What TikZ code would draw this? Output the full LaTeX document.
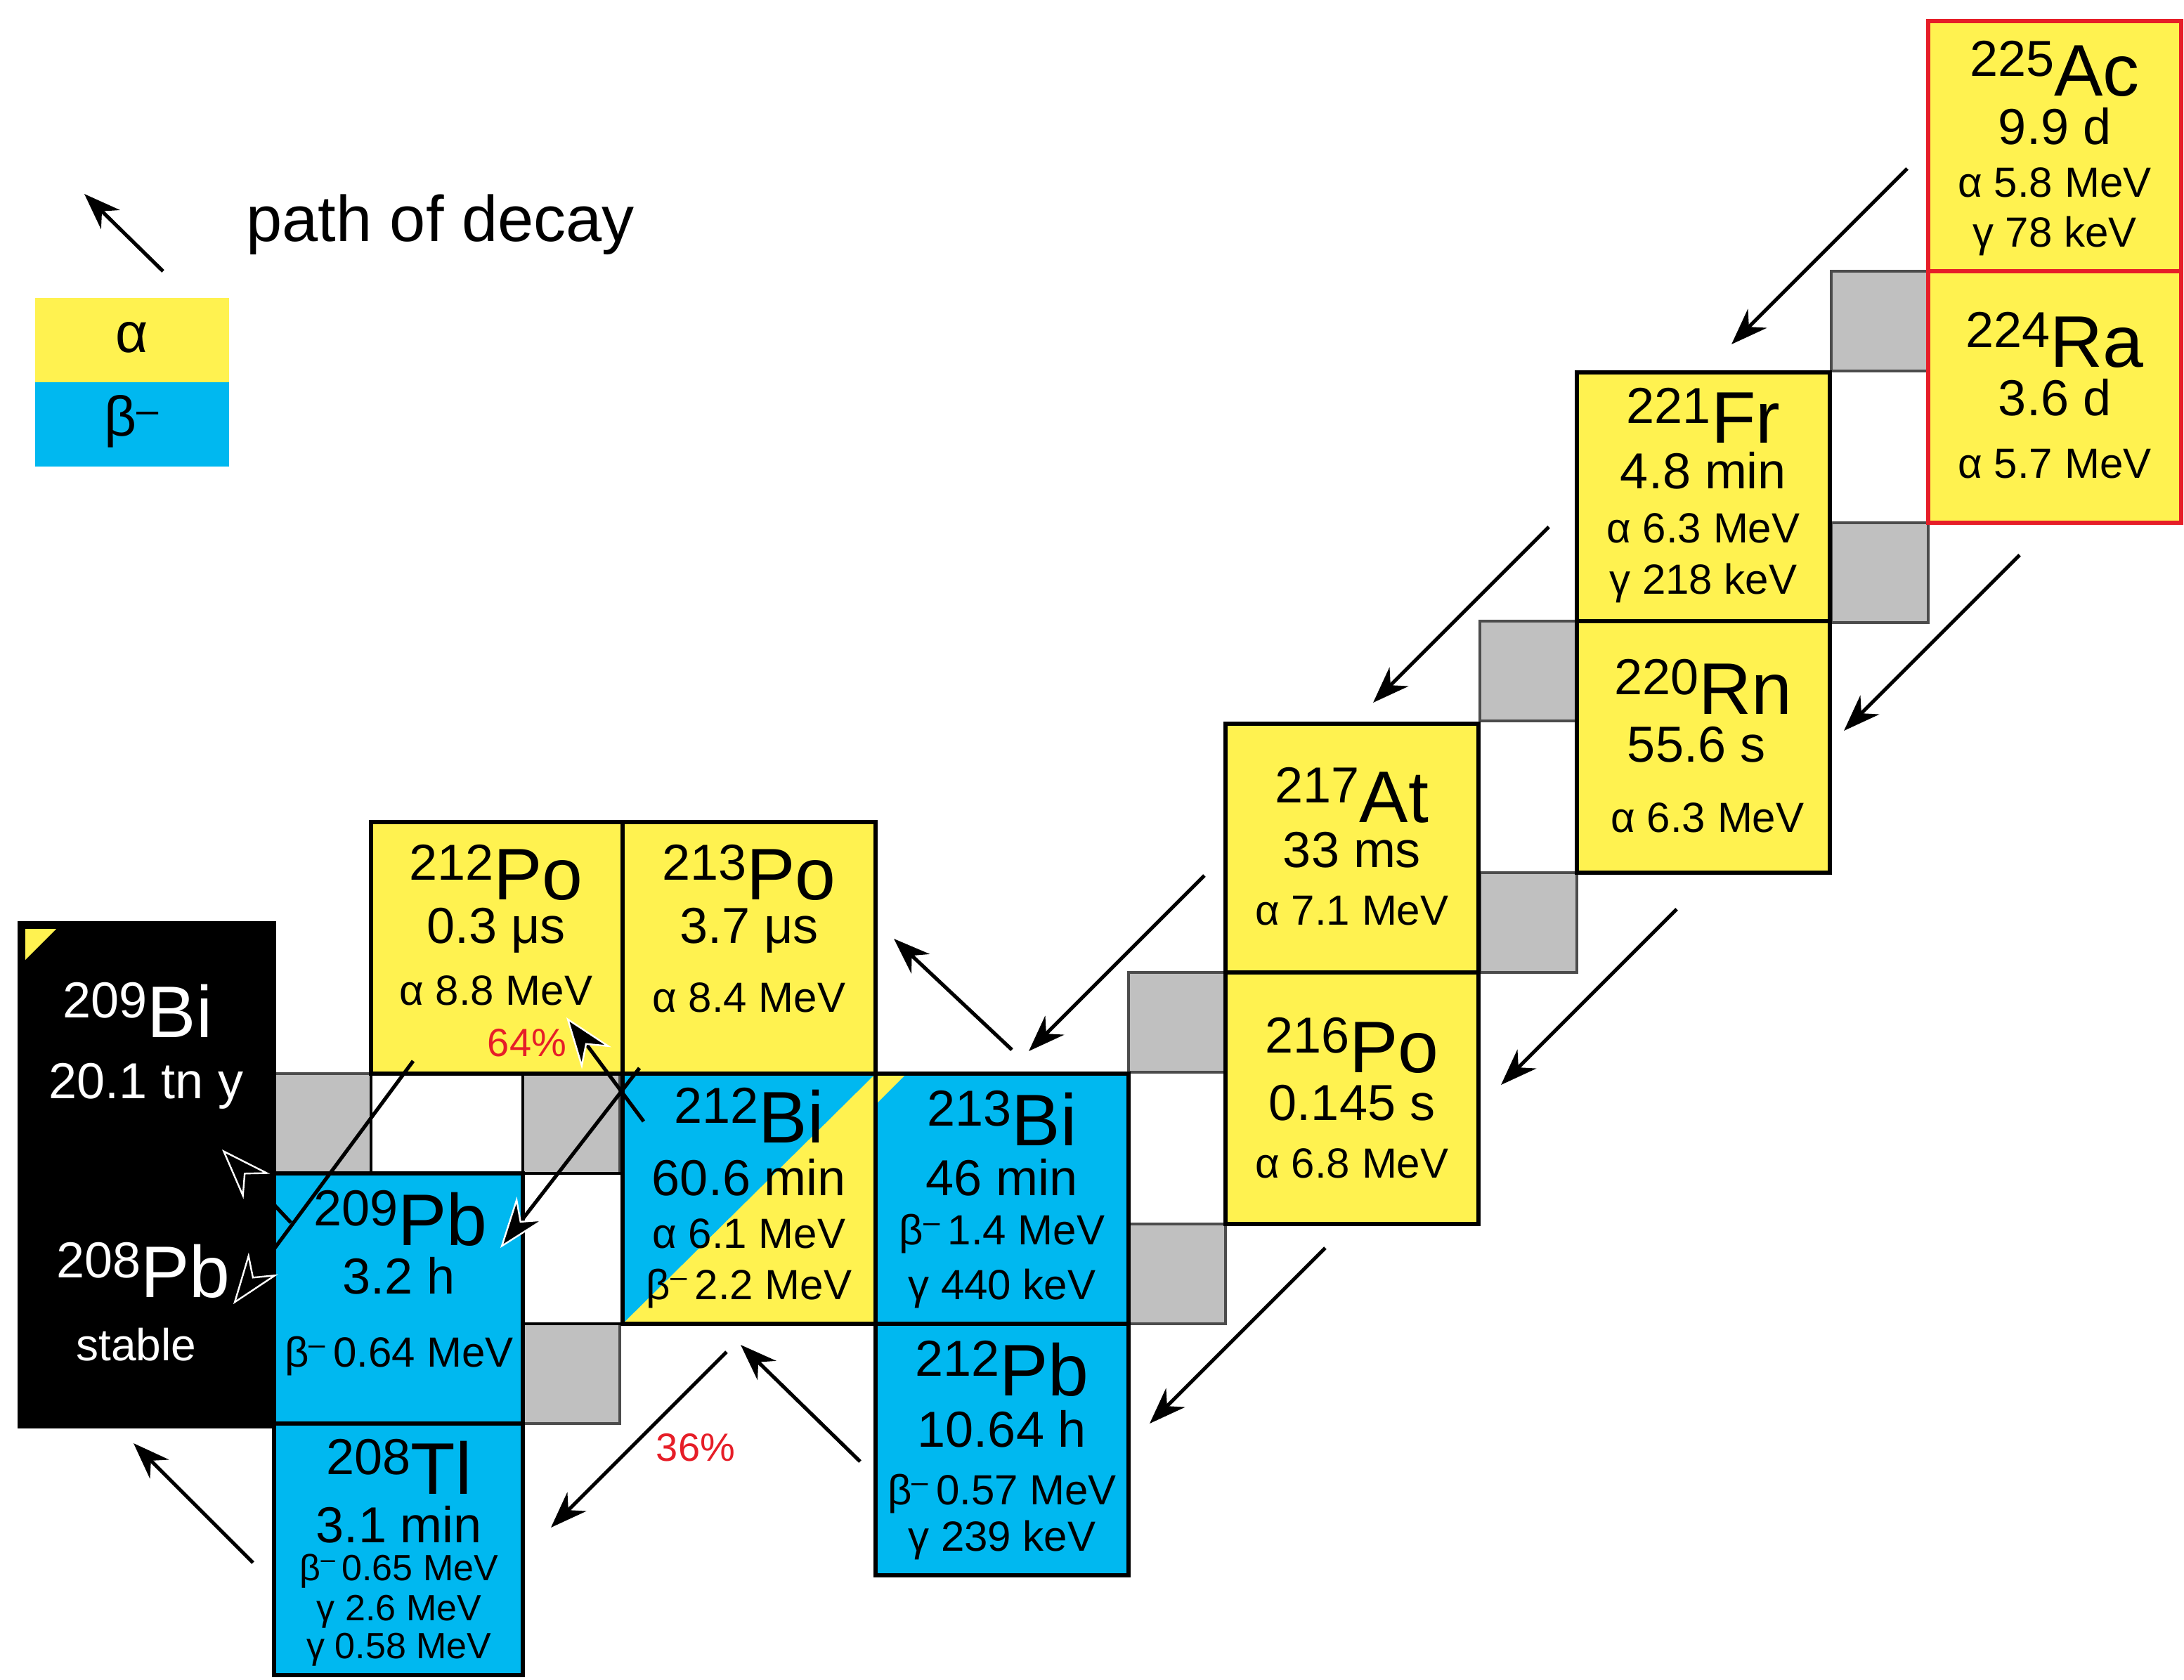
\documentclass[tikz,border=0pt]{standalone}
\usepackage{fontspec}
\setmainfont{Liberation Sans}
\usetikzlibrary{arrows.meta}
\definecolor{ye}{RGB}{255,242,80}
\definecolor{bl}{RGB}{0,184,240}
\definecolor{gr}{RGB}{192,192,192}
\definecolor{rd}{RGB}{230,30,40}
\newcommand\iso[2]{{\fontsize{36}{40}\selectfont\smash{\raisebox{14pt}{#1}}}{\fontsize{52}{56}\selectfont\smash{#2}}}
\newcommand\bm{β\textsuperscript{–}}
\tikzset{
 box/.style={draw=black,line width=3pt},
 gsq/.style={draw=black!70,line width=2pt,fill=gr},
 ttl/.style={inner sep=0pt,yshift=-18pt},
 hl/.style={inner sep=0pt,font=\fontsize{36}{40}\selectfont},
 en/.style={inner sep=0pt,font=\fontsize{30}{34}\selectfont},
 ensm/.style={inner sep=0pt,font=\fontsize{26}{28}\selectfont},
 pct/.style={inner sep=0pt,text=rd,font=\fontsize{28}{30}\selectfont},
 arr/.style={line width=2.6pt,-{Stealth[length=26pt,width=19pt]}},
 warr/.style={line width=2.6pt,-{Stealth[length=36pt,width=26pt,fill=black,color=white,line width=1.2pt]}},
}
\begin{document}
\begin{tikzpicture}[x=1pt,y=-1pt]
\useasboundingbox (0,0) rectangle (1554,1195);
% gray squares
\foreach \x/\y in {1303/193,1303/372,1053/442,1053/621,803/692,803/871,372/764,372/942,195/764}
  \draw[gsq] (\x,\y) rectangle ++(69,71);
% white cells borders
\draw[line width=2pt] (264,764) rectangle (372,835);
\draw[line width=2pt] (372,835) rectangle (443,942);
% boxes
\draw[box,fill=ye,draw=rd] (1372,15) rectangle (1552,193);
\draw[box,fill=ye,draw=rd] (1372,193) rectangle (1552,372);
\draw[box,fill=ye] (1122,265) rectangle (1302,442);
\draw[box,fill=ye] (1122,442) rectangle (1302,621);
\draw[box,fill=ye] (872,515) rectangle (1052,692);
\draw[box,fill=ye] (872,692) rectangle (1052,871);
\fill[bl] (623,764) rectangle (803,942);
\fill[ye] (623,764) -- (645,764) -- (623,786) -- cycle;
\draw[box] (623,764) rectangle (803,942);
\draw[box,fill=bl] (623,942) rectangle (803,1121);
\fill[ye] (443,764) rectangle (623,942);
\fill[bl] (443,764) -- (623,764) -- (443,942) -- cycle;
\draw[box] (443,764) rectangle (623,942);
\draw[box,fill=ye] (443,585) rectangle (623,764);
\draw[box,fill=ye] (264,585) rectangle (443,764);
\draw[box,fill=bl] (195,835) rectangle (372,1013);
\draw[box,fill=bl] (195,1013) rectangle (372,1192);
\draw[box,fill=black] (14,657) rectangle (195,835);
\fill[ye] (18,661) -- (40,661) -- (18,683) -- cycle;
\draw[box,fill=black] (14,835) rectangle (195,1015);
% texts
\node[ttl] (ac) at (1462,50) {\iso{225}{Ac}};
\node[hl] at (1462,90) {9.9 d};
\node[en] at (1462,130) {α 5.8 MeV};
\node[en] at (1462,168) {γ 78 keV};
\node[ttl] (ra) at (1462,243) {\iso{224}{Ra}};
\node[hl] at (1462,283) {3.6 d};
\node[en] at (1462,330) {α 5.7 MeV};
\node[ttl] (fr) at (1212,297) {\iso{221}{Fr}};
\node[hl] at (1212,335) {4.8 min};
\node[en] at (1212,376) {α 6.3 MeV};
\node[en] at (1212,415) {γ 218 keV};
\node[ttl] (rn) at (1212,490) {\iso{220}{Rn}};
\node[hl] at (1207,530) {55.6 s};
\node[en] at (1215,582) {α 6.3 MeV};
\node[ttl] (at) at (962,567) {\iso{217}{At}};
\node[hl] at (962,605) {33 ms};
\node[en] at (962,648) {α 7.1 MeV};
\node[ttl] (po216) at (962,745) {\iso{216}{Po}};
\node[hl] at (962,785) {0.145 s};
\node[en] at (962,828) {α 6.8 MeV};
\node[ttl] (bi213) at (713,797) {\iso{213}{Bi}};
\node[hl] at (713,838) {46 min};
\node[en] at (713,878) {\bm\,1.4 MeV};
\node[en] at (713,917) {γ 440 keV};
\node[ttl] (pb212) at (713,975) {\iso{212}{Pb}};
\node[hl] at (713,1017) {10.64 h};
\node[en] at (713,1063) {\bm\,0.57 MeV};
\node[en] at (713,1096) {γ 239 keV};
\node[ttl] (bi212) at (533,795) {\iso{212}{Bi}};
\node[hl] at (533,838) {60.6 min};
\node[en] at (533,878) {α 6.1 MeV};
\node[en] at (533,917) {\bm\,2.2 MeV};
\node[ttl] (po213) at (533,622) {\iso{213}{Po}};
\node[hl] at (533,662) {3.7 μs};
\node[en] at (533,710) {α 8.4 MeV};
\node[ttl] (po212) at (353,622) {\iso{212}{Po}};
\node[hl] at (353,662) {0.3 μs};
\node[en] at (353,705) {α 8.8 MeV};
\node[pct] at (375,742) {64\%};
\node[ttl,text=white] (bi209) at (98,720) {\iso{209}{Bi}};
\node[hl,text=white] at (104,773) {20.1 tn y};
\node[ttl,text=white] (pb208) at (102,905) {\iso{208}{Pb}};
\node[en,text=white,font=\fontsize{32}{36}\selectfont] at (97,957) {stable};
\node[ttl] (pb209) at (285,868) {\iso{209}{Pb}};
\node[hl] at (284,908) {3.2 h};
\node[en] at (284,965) {\bm\,0.64 MeV};
\node[ttl] (tl208) at (284,1045) {\iso{208}{Tl}};
\node[hl] at (284,1085) {3.1 min};
\node[ensm] at (284,1118) {\bm\,0.65 MeV};
\node[ensm] at (284,1147) {γ 2.6 MeV};
\node[ensm] at (284,1174) {γ 0.58 MeV};
\node[pct] at (495,1030) {36\%};
% legend
\node[inner sep=0pt,anchor=west,font=\fontsize{46}{50}\selectfont] (lg) at (175,160) {path of decay};
\fill[ye] (25,212) rectangle (163,272);
\fill[bl] (25,272) rectangle (163,332);
\node[inner sep=0pt,font=\fontsize{40}{44}\selectfont] (la) at (94,240) {α};
\node[inner sep=0pt,font=\fontsize{40}{44}\selectfont] (lb) at (94,300) {\bm};
% arrow coordinates
\foreach \n/\x/\y in {l1/116/193,l2/60/138,
 a1/1357/120,a2/1232/245, b1/1437/395,b2/1312/520, c1/1102/375,c2/977/500,
 d1/1193/647,d2/1068/772, e1/857/623,e2/732/748, f1/943/888,f2/818/1013,
 g1/720/747,g2/636/668, h1/612/1040,h2/527/957, i1/517/962,i2/392/1087,
 j1/455/760,j2/356/888, k1/458/798,k2/403/724, m1/294/755,m2/166/928,
 n1/207/870,n2/158/818, o1/180/1112,o2/95/1027}
 \coordinate (\n) at (\x,\y);
\draw[arr] (l1) -- (l2);
\draw[arr] (a1) -- (a2);
\draw[arr] (b1) -- (b2);
\draw[arr] (c1) -- (c2);
\draw[arr] (d1) -- (d2);
\draw[arr] (e1) -- (e2);
\draw[arr] (f1) -- (f2);
\draw[arr] (g1) -- (g2);
\draw[arr] (h1) -- (h2);
\draw[arr] (i1) -- (i2);
\draw[warr] (j1) -- (j2);
\draw[warr] (k1) -- (k2);
\draw[warr] (m1) -- (m2);
\draw[warr] (n1) -- (n2);
\draw[arr] (o1) -- (o2);
\end{tikzpicture}
\end{document}
